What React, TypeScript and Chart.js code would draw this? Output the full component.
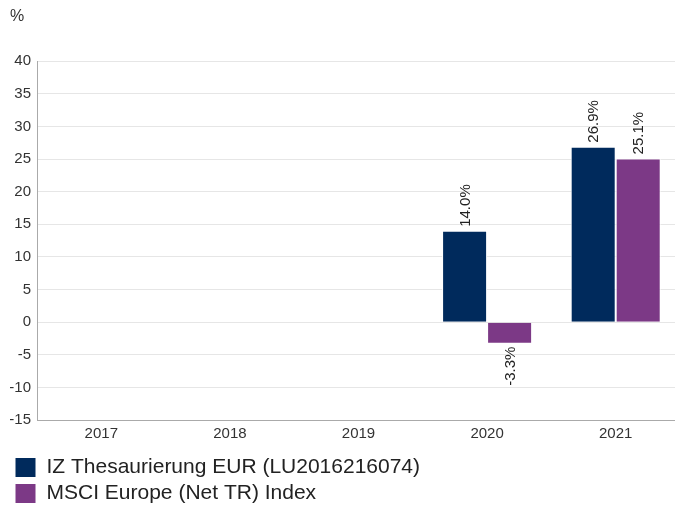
import React, { useEffect, useRef } from "react";
import { Chart, registerables } from "chart.js";

Chart.register(...registerables);

const categories = ["2017", "2018", "2019", "2020", "2021"];
const fundLabel = "IZ Thesaurierung EUR (LU2016216074)";
const indexLabel = "MSCI Europe (Net TR) Index";
const fundValues: (number | null)[] = [null, null, null, 14.0, 26.9];
const indexValues: (number | null)[] = [null, null, null, -3.3, 25.1];
const yMin = -15;
const yMax = 40;
const yStep = 5;

const FONT = "Arial, 'Liberation Sans', Helvetica, sans-serif";

const valueLabelPlugin = {
  id: "valueLabels",
  afterDatasetsDraw(chart: any) {
    const ctx = chart.ctx;
    ctx.save();
    ctx.font = `15px ${FONT}`;
    ctx.fillStyle = "#222";
    ctx.textBaseline = "middle";
    chart.data.datasets.forEach((ds: any, di: number) => {
      const meta = chart.getDatasetMeta(di);
      meta.data.forEach((el: any, i: number) => {
        const v = ds.data[i];
        if (v === null || v === undefined) return;
        const text = v.toFixed(1) + "%";
        ctx.save();
        if (v >= 0) {
          ctx.translate(el.x + 1, el.y - 4);
          ctx.rotate(-Math.PI / 2);
          ctx.textAlign = "left";
        } else {
          ctx.translate(el.x + 1, el.y + 3);
          ctx.rotate(-Math.PI / 2);
          ctx.textAlign = "right";
        }
        ctx.fillText(text, 0, 0);
        ctx.restore();
      });
    });
    ctx.restore();
  },
};

export default function App() {
  const ref = useRef<HTMLCanvasElement>(null);
  useEffect(() => {
    document.body.style.margin = "0";
    const canvas = ref.current;
    if (!canvas) return;
    const chart = new Chart(canvas, {
      type: "bar",
      data: {
        labels: categories,
        datasets: [
          {
            label: fundLabel,
            data: fundValues,
            backgroundColor: "#002a5c",
            borderColor: "#ffffff",
            borderWidth: 1,
          },
          {
            label: indexLabel,
            data: indexValues,
            backgroundColor: "#7c3986",
            borderColor: "#ffffff",
            borderWidth: 1,
          },
        ],
      },
      options: {
        responsive: false,
        animation: false,
        layout: { padding: { left: 10, right: 0, top: 7, bottom: -5 } },
        datasets: { bar: { categoryPercentage: 0.7, barPercentage: 1 } },
        plugins: {
          title: {
            display: true,
            text: "%",
            align: "start",
            color: "#333",
            font: { family: FONT, size: 16, weight: "normal" },
            padding: { top: 0, bottom: 35 },
          },
          legend: {
            position: "bottom",
            align: "start",
            labels: {
              boxWidth: 21,
              boxHeight: 20,
              padding: 5,
              color: "#222",
              font: { family: FONT, size: 21 },
            },
          },
          tooltip: { enabled: false },
        },
        scales: {
          x: {
            grid: { display: false, drawTicks: false },
            border: { display: true, color: "#aaaaaa" },
            ticks: { color: "#333", font: { family: FONT, size: 15 }, padding: 5 },
            afterFit: (axis: any) => {
              axis.height = 32;
            },
          },
          y: {
            min: yMin,
            max: yMax,
            ticks: {
              stepSize: yStep,
              color: "#333",
              font: { family: FONT, size: 15 },
              padding: 6,
            },
            grid: { color: "#e6e6e6", drawTicks: false },
            border: { display: true, color: "#aaaaaa" },
            afterFit: (axis: any) => {
              axis.width = 27;
            },
          },
        },
      },
      plugins: [valueLabelPlugin],
    } as any);
    return () => chart.destroy();
  }, []);
  return (
    <div style={{ width: 675, height: 509, overflow: "hidden" }}>
      <canvas ref={ref} width={680} height={509} style={{ display: "block" }} />
    </div>
  );
}
